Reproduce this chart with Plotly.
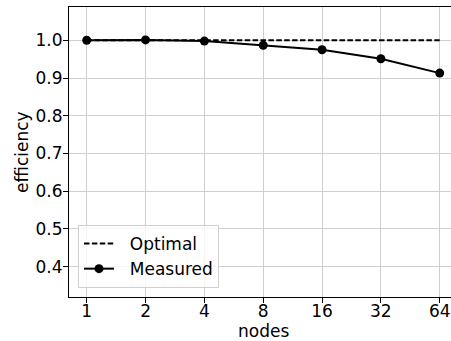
import math
import plotly.graph_objects as go

nodes = [1, 2, 4, 8, 16, 32, 64]
optimal = [1.0, 1.0, 1.0, 1.0, 1.0, 1.0, 1.0]
measured = [1.0, 1.001, 0.998, 0.987, 0.975, 0.951, 0.913]
y_ticks = [0.4, 0.5, 0.6, 0.7, 0.8, 0.9, 1.0]
y_tick_text = ["0.4", "0.5", "0.6", "0.7", "0.8", "0.9", "1.0"]

FONT = "DejaVu Sans"
FS = 17

fig = go.Figure()
fig.add_trace(go.Scatter(
    x=nodes, y=optimal, mode="lines", name="  Optimal",
    line=dict(color="black", width=2, dash="5.5px,2.4px"),
))
fig.add_trace(go.Scatter(
    x=nodes, y=measured, mode="lines+markers", name="  Measured",
    line=dict(color="black", width=2),
    marker=dict(color="black", size=9, symbol="circle"),
))

l2 = math.log10(2)
W, H = 451, 341
ml, mr, mt, mb = 69, 0, 7, 44
pw, ph = W - ml - mr, H - mt - mb

fig.update_layout(
    width=W, height=H,
    margin=dict(l=ml, r=mr, t=mt, b=mb),
    plot_bgcolor="white", paper_bgcolor="white",
    font=dict(family=FONT, size=FS, color="black"),
    showlegend=True,
    legend=dict(
        x=(78 - ml) / pw, y=(297 - 288) / ph, xanchor="left", yanchor="bottom",
        bgcolor="rgba(255,255,255,0.8)", bordercolor="#d0d0d0", borderwidth=1,
        font=dict(family=FONT, size=FS, color="black"),
        tracegroupgap=0, itemwidth=30,
    ),
    xaxis=dict(
        type="log", range=[-0.301 * l2, 6.192 * l2],
        tickvals=nodes, ticktext=[str(n) for n in nodes],
        ticks="outside", ticklen=5, tickcolor="black", tickwidth=1.1,
        ticklabelstandoff=-6,
        showline=True, linecolor="black", linewidth=1.1, mirror=True,
        showgrid=True, gridcolor="#cfcfcf", gridwidth=1.1,
        zeroline=False,
        tickfont=dict(family=FONT, size=FS),
    ),
    yaxis=dict(
        range=[0.3194, 1.0883],
        tickvals=y_ticks, ticktext=y_tick_text,
        ticks="outside", ticklen=5, tickcolor="black", tickwidth=1.1,
        ticklabelstandoff=-3,
        showline=True, linecolor="black", linewidth=1.1, mirror=False,
        showgrid=True, gridcolor="#cfcfcf", gridwidth=1.1,
        zeroline=False,
        tickfont=dict(family=FONT, size=FS),
    ),
    annotations=[
        dict(text="nodes", xref="paper", yref="paper",
             x=(263 - ml) / pw, y=-(331 - 297) / ph,
             xanchor="center", yanchor="middle", showarrow=False,
             font=dict(family=FONT, size=FS)),
        dict(text="efficiency", xref="paper", yref="paper",
             x=-(ml - 22) / pw, y=(297 - 152) / ph, textangle=-90,
             xanchor="center", yanchor="middle", showarrow=False,
             font=dict(family=FONT, size=FS)),
    ],
)

fig.write_html("out.html")
